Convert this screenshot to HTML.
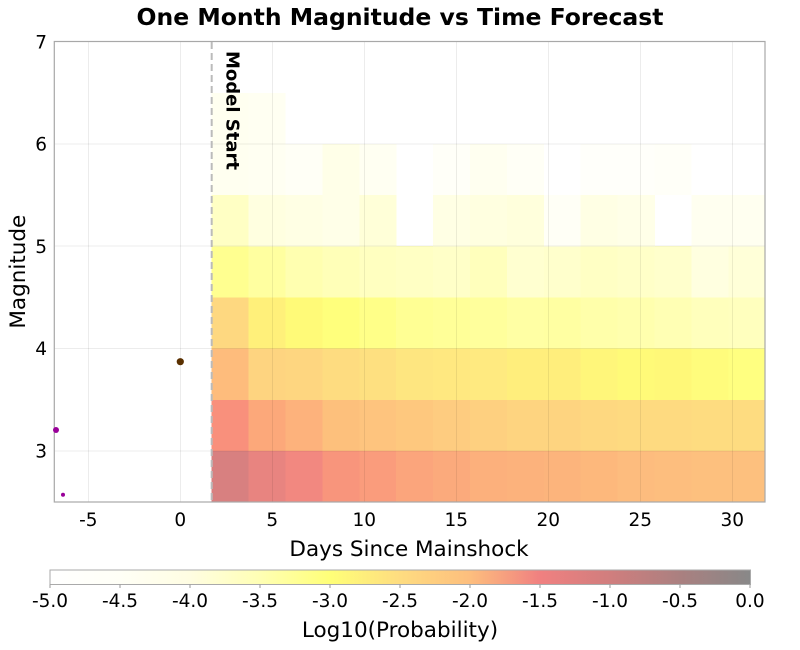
<!DOCTYPE html>
<html><head><meta charset="utf-8"><style>
html,body{margin:0;padding:0;background:#fff;}
svg{display:block;font-family:"DejaVu Sans","Liberation Sans",sans-serif;}
</style></head><body>
<svg width="800" height="650" viewBox="0 0 800 650" xmlns="http://www.w3.org/2000/svg">
<defs>
<linearGradient id="cb" x1="0" y1="0" x2="1" y2="0">
<stop offset="0" stop-color="#ffffff"/>
<stop offset="0.1" stop-color="#fffff6"/>
<stop offset="0.2" stop-color="#fffde2"/>
<stop offset="0.3" stop-color="#ffffb4"/>
<stop offset="0.4" stop-color="#ffff78"/>
<stop offset="0.5" stop-color="#fedc80"/>
<stop offset="0.6" stop-color="#fdbe7e"/>
<stop offset="0.7" stop-color="#f08080"/>
<stop offset="0.8" stop-color="#d07e7e"/>
<stop offset="0.9" stop-color="#aa8080"/>
<stop offset="1" stop-color="#888888"/>
</linearGradient>
</defs>
<rect x="0" y="0" width="800" height="650" fill="#fff"/>
<text x="400" y="25" text-anchor="middle" font-size="23.5" font-weight="bold" fill="#000">One Month Magnitude vs Time Forecast</text>

<!-- heatmap cells -->
<g shape-rendering="crispEdges">
<!-- r0 2.5-3 -->
<g transform="translate(0,450.8)">
<rect x="211.7" width="37.2" height="51.2" fill="#d88080"/>
<rect x="248.6" width="37.2" height="51.2" fill="#e88480"/>
<rect x="285.5" width="37.2" height="51.2" fill="#f28880"/>
<rect x="322.4" width="37.2" height="51.2" fill="#f8957c"/>
<rect x="359.3" width="37.2" height="51.2" fill="#fa9c7c"/>
<rect x="396.2" width="37.2" height="51.2" fill="#fba57c"/>
<rect x="433.1" width="37.2" height="51.2" fill="#fbaa7c"/>
<rect x="470" width="37.2" height="51.2" fill="#fcb07c"/>
<rect x="506.9" width="37.2" height="51.2" fill="#fcb27c"/>
<rect x="543.8" width="37.2" height="51.2" fill="#fcb47c"/>
<rect x="580.7" width="37.2" height="51.2" fill="#fdb87c"/>
<rect x="617.6" width="37.2" height="51.2" fill="#fdbc7e"/>
<rect x="654.5" width="37.2" height="51.2" fill="#fdbe7e"/>
<rect x="691.4" width="37.2" height="51.2" fill="#fdc07e"/>
<rect x="728.3" width="36.7" height="51.2" fill="#fdc07e"/>
</g>
<!-- r1 3-3.5 -->
<g transform="translate(0,399.7)">
<rect x="211.7" width="37.2" height="51.3" fill="#f9907c"/>
<rect x="248.6" width="37.2" height="51.3" fill="#fca87a"/>
<rect x="285.5" width="37.2" height="51.3" fill="#fdb27c"/>
<rect x="322.4" width="37.2" height="51.3" fill="#fdc07c"/>
<rect x="359.3" width="37.2" height="51.3" fill="#fec47e"/>
<rect x="396.2" width="37.2" height="51.3" fill="#fec87e"/>
<rect x="433.1" width="37.2" height="51.3" fill="#fecc80"/>
<rect x="470" width="37.2" height="51.3" fill="#fed080"/>
<rect x="506.9" width="37.2" height="51.3" fill="#fed480"/>
<rect x="543.8" width="37.2" height="51.3" fill="#fed480"/>
<rect x="580.7" width="37.2" height="51.3" fill="#fed880"/>
<rect x="617.6" width="37.2" height="51.3" fill="#feda80"/>
<rect x="654.5" width="37.2" height="51.3" fill="#feda80"/>
<rect x="691.4" width="37.2" height="51.3" fill="#fedc80"/>
<rect x="728.3" width="36.7" height="51.3" fill="#fedc80"/>
</g>
<!-- r2 3.5-4 -->
<g transform="translate(0,348.5)">
<rect x="211.7" width="37.2" height="51.3" fill="#febc7c"/>
<rect x="248.6" width="37.2" height="51.3" fill="#fed480"/>
<rect x="285.5" width="37.2" height="51.3" fill="#fed680"/>
<rect x="322.4" width="37.2" height="51.3" fill="#fedc80"/>
<rect x="359.3" width="37.2" height="51.3" fill="#fee080"/>
<rect x="396.2" width="37.2" height="51.3" fill="#fee680"/>
<rect x="433.1" width="37.2" height="51.3" fill="#ffe880"/>
<rect x="470" width="37.2" height="51.3" fill="#ffea80"/>
<rect x="506.9" width="37.2" height="51.3" fill="#ffee7c"/>
<rect x="543.8" width="37.2" height="51.3" fill="#ffee7c"/>
<rect x="580.7" width="37.2" height="51.3" fill="#fff67a"/>
<rect x="617.6" width="37.2" height="51.3" fill="#fffa78"/>
<rect x="654.5" width="37.2" height="51.3" fill="#fff878"/>
<rect x="691.4" width="37.2" height="51.3" fill="#fffc7c"/>
<rect x="728.3" width="36.7" height="51.3" fill="#ffff80"/>
</g>
<!-- r3 4-4.5 -->
<g transform="translate(0,297.4)">
<rect x="211.7" width="37.2" height="51.2" fill="#fed880"/>
<rect x="248.6" width="37.2" height="51.2" fill="#fff07a"/>
<rect x="285.5" width="37.2" height="51.2" fill="#fffa78"/>
<rect x="322.4" width="37.2" height="51.2" fill="#ffff7c"/>
<rect x="359.3" width="37.2" height="51.2" fill="#ffff88"/>
<rect x="396.2" width="37.2" height="51.2" fill="#ffff94"/>
<rect x="433.1" width="37.2" height="51.2" fill="#ffff98"/>
<rect x="470" width="37.2" height="51.2" fill="#ffff9c"/>
<rect x="506.9" width="37.2" height="51.2" fill="#ffffa4"/>
<rect x="543.8" width="37.2" height="51.2" fill="#ffffa2"/>
<rect x="580.7" width="37.2" height="51.2" fill="#ffffaa"/>
<rect x="617.6" width="37.2" height="51.2" fill="#ffffae"/>
<rect x="654.5" width="37.2" height="51.2" fill="#ffffb4"/>
<rect x="691.4" width="37.2" height="51.2" fill="#ffffbc"/>
<rect x="728.3" width="36.7" height="51.2" fill="#ffffbe"/>
</g>
<!-- r4 4.5-5 -->
<g transform="translate(0,246.2)">
<rect x="211.7" width="37.2" height="51.3" fill="#ffff90"/>
<rect x="248.6" width="37.2" height="51.3" fill="#ffffa0"/>
<rect x="285.5" width="37.2" height="51.3" fill="#ffffb0"/>
<rect x="322.4" width="37.2" height="51.3" fill="#ffffb8"/>
<rect x="359.3" width="37.2" height="51.3" fill="#ffffc0"/>
<rect x="396.2" width="37.2" height="51.3" fill="#ffffc4"/>
<rect x="433.1" width="37.2" height="51.3" fill="#ffffc8"/>
<rect x="470" width="37.2" height="51.3" fill="#ffffbc"/>
<rect x="506.9" width="37.2" height="51.3" fill="#ffffd0"/>
<rect x="543.8" width="37.2" height="51.3" fill="#ffffcc"/>
<rect x="580.7" width="37.2" height="51.3" fill="#ffffc4"/>
<rect x="617.6" width="37.2" height="51.3" fill="#ffffc8"/>
<rect x="654.5" width="37.2" height="51.3" fill="#ffffcc"/>
<rect x="691.4" width="37.2" height="51.3" fill="#ffffe0"/>
<rect x="728.3" width="36.7" height="51.3" fill="#ffffd8"/>
</g>
<!-- r5 5-5.5 -->
<g transform="translate(0,195.1)">
<rect x="211.7" width="37.2" height="51.2" fill="#ffffc4"/>
<rect x="248.6" width="37.2" height="51.2" fill="#ffffe0"/>
<rect x="285.5" width="37.2" height="51.2" fill="#ffffe4"/>
<rect x="322.4" width="37.2" height="51.2" fill="#ffffe8"/>
<rect x="359.3" width="37.2" height="51.2" fill="#ffffd8"/>
<rect x="433.1" width="37.2" height="51.2" fill="#ffffe4"/>
<rect x="470" width="37.2" height="51.2" fill="#ffffe0"/>
<rect x="506.9" width="37.2" height="51.2" fill="#ffffdc"/>
<rect x="543.8" width="37.2" height="51.2" fill="#fffff6"/>
<rect x="580.7" width="37.2" height="51.2" fill="#ffffe4"/>
<rect x="617.6" width="37.2" height="51.2" fill="#ffffe8"/>
<rect x="691.4" width="37.2" height="51.2" fill="#fffff0"/>
<rect x="728.3" width="36.7" height="51.2" fill="#fffff0"/>
</g>
<!-- r6 5.5-6 -->
<g transform="translate(0,143.9)">
<rect x="211.7" width="37.2" height="51.3" fill="#fffff0"/>
<rect x="248.6" width="37.2" height="51.3" fill="#fffff2"/>
<rect x="285.5" width="37.2" height="51.3" fill="#fffff6"/>
<rect x="322.4" width="37.2" height="51.3" fill="#ffffe8"/>
<rect x="359.3" width="37.2" height="51.3" fill="#fffff2"/>
<rect x="433.1" width="37.2" height="51.3" fill="#fffff8"/>
<rect x="470" width="37.2" height="51.3" fill="#fffff0"/>
<rect x="506.9" width="37.2" height="51.3" fill="#fffff6"/>
<rect x="580.7" width="37.2" height="51.3" fill="#fffffa"/>
<rect x="617.6" width="37.2" height="51.3" fill="#fffffa"/>
<rect x="654.5" width="37.2" height="51.3" fill="#fffff8"/>
</g>
<!-- r7 6-6.5 -->
<g transform="translate(0,92.8)">
<rect x="211.7" width="37.2" height="51.2" fill="#fffff0"/>
<rect x="248.6" width="37" height="51.2" fill="#fffff2"/>
</g>
</g>

<!-- gridlines -->
<g stroke="#000" stroke-opacity="0.075" stroke-width="1" shape-rendering="crispEdges">
<line x1="88.3" y1="41.5" x2="88.3" y2="502"/>
<line x1="180.3" y1="41.5" x2="180.3" y2="502"/>
<line x1="272.3" y1="41.5" x2="272.3" y2="502"/>
<line x1="364.3" y1="41.5" x2="364.3" y2="502"/>
<line x1="456.3" y1="41.5" x2="456.3" y2="502"/>
<line x1="548.3" y1="41.5" x2="548.3" y2="502"/>
<line x1="640.3" y1="41.5" x2="640.3" y2="502"/>
<line x1="732.3" y1="41.5" x2="732.3" y2="502"/>
<line x1="54.3" y1="450.8" x2="765" y2="450.8"/>
<line x1="54.3" y1="348.5" x2="765" y2="348.5"/>
<line x1="54.3" y1="246.2" x2="765" y2="246.2"/>
<line x1="54.3" y1="143.9" x2="765" y2="143.9"/>
</g>

<!-- plot border -->
<rect x="54.3" y="41.5" width="710.7" height="460.5" fill="none" stroke="#a8a8a8" stroke-width="1.2"/>

<!-- model start -->
<line x1="211.7" y1="42" x2="211.7" y2="502" stroke="#bbbbbb" stroke-width="2" stroke-dasharray="7,4"/>
<text transform="translate(226.5,51) rotate(90)" font-size="18" font-weight="bold" fill="#000">Model Start</text>

<!-- scatter -->
<circle cx="180.3" cy="361.7" r="3.6" fill="#5a3000"/>
<circle cx="56" cy="430" r="3" fill="#990099"/>
<circle cx="63" cy="494.7" r="2" fill="#990099"/>

<!-- y tick labels -->
<g font-size="18.5" fill="#000" text-anchor="end">
<text x="47" y="48.3">7</text>
<text x="47" y="150.6">6</text>
<text x="47" y="252.9">5</text>
<text x="47" y="355.2">4</text>
<text x="47" y="457.5">3</text>
</g>
<text transform="translate(25,271.7) rotate(-90)" font-size="21.5" text-anchor="middle" fill="#000">Magnitude</text>

<!-- x tick labels -->
<g font-size="18.5" fill="#000" text-anchor="middle">
<text x="88.3" y="526">-5</text>
<text x="180.3" y="526">0</text>
<text x="272.3" y="526">5</text>
<text x="364.3" y="526">10</text>
<text x="456.3" y="526">15</text>
<text x="548.3" y="526">20</text>
<text x="640.3" y="526">25</text>
<text x="732.3" y="526">30</text>
</g>
<text x="409" y="556" font-size="21.5" text-anchor="middle" fill="#000">Days Since Mainshock</text>

<!-- colorbar -->
<rect x="50" y="570" width="700.5" height="14.5" fill="url(#cb)" stroke="#aaaaaa" stroke-width="1"/>
<g stroke="#999" stroke-width="1">
<line x1="50" y1="584.5" x2="50" y2="588"/>
<line x1="120" y1="584.5" x2="120" y2="588"/>
<line x1="190" y1="584.5" x2="190" y2="588"/>
<line x1="260" y1="584.5" x2="260" y2="588"/>
<line x1="330" y1="584.5" x2="330" y2="588"/>
<line x1="400" y1="584.5" x2="400" y2="588"/>
<line x1="470" y1="584.5" x2="470" y2="588"/>
<line x1="540" y1="584.5" x2="540" y2="588"/>
<line x1="610" y1="584.5" x2="610" y2="588"/>
<line x1="680" y1="584.5" x2="680" y2="588"/>
<line x1="750" y1="584.5" x2="750" y2="588"/>
</g>
<g font-size="18.5" fill="#000" text-anchor="middle">
<text x="50" y="607">-5.0</text>
<text x="120" y="607">-4.5</text>
<text x="190" y="607">-4.0</text>
<text x="260" y="607">-3.5</text>
<text x="330" y="607">-3.0</text>
<text x="400" y="607">-2.5</text>
<text x="470" y="607">-2.0</text>
<text x="540" y="607">-1.5</text>
<text x="610" y="607">-1.0</text>
<text x="680" y="607">-0.5</text>
<text x="750" y="607">0.0</text>
</g>
<text x="400" y="637" font-size="21.5" text-anchor="middle" fill="#000">Log10(Probability)</text>
</svg>
</body></html>
